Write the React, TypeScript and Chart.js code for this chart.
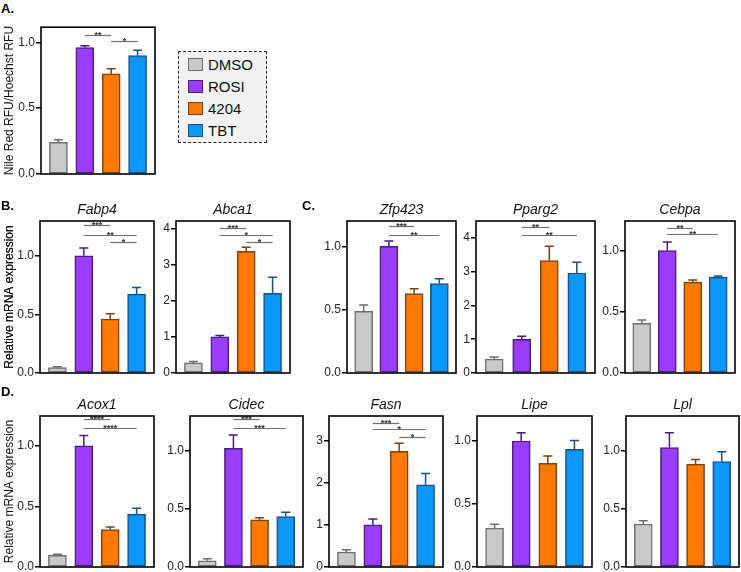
import React, { useEffect, useRef } from 'react';
import { Chart, registerables } from 'chart.js';

Chart.register(...registerables);

const FONT = '"Liberation Sans", Arial, Helvetica, sans-serif';

// ---------- data ----------
const groups = ['DMSO', 'ROSI', '4204', 'TBT'];
const fillColors = ['#c9c9c9', '#9a3dfb', '#ff7800', '#0b97fb'];
const edgeColors = ['#6e6e6e', '#4a1d7a', '#7a4010', '#1b4f80'];

const nileRedMean = [0.24, 0.96, 0.76, 0.90];
const nileRedErr = [0.02, 0.015, 0.04, 0.04];
const nileRedSig: [number, number, number, string][] = [[1, 2, 1.054, '**'], [2, 3, 1.012, '*']];

const fabp4Mean = [0.046, 1.0, 0.46, 0.672];
const fabp4Err = [0.008, 0.066, 0.046, 0.058];
const fabp4Sig: [number, number, number, string][] = [[1, 2, 1.266, '***'], [1, 3, 1.18, '**'], [2, 3, 1.114, '*']];

const abca1Mean = [0.28, 1.0, 3.37, 2.21];
const abca1Err = [0.04, 0.04, 0.11, 0.44];
const abca1Sig: [number, number, number, string][] = [[1, 2, 4.02, '***'], [1, 3, 3.82, '*'], [2, 3, 3.63, '*']];

const zfp423Mean = [0.487, 1.0, 0.627, 0.706];
const zfp423Err = [0.05, 0.042, 0.039, 0.039];
const zfp423Sig: [number, number, number, string][] = [[1, 2, 1.159, '***'], [1, 3, 1.093, '**']];

const pparg2Mean = [0.41, 1.0, 3.33, 2.96];
const pparg2Err = [0.06, 0.09, 0.42, 0.32];
const pparg2Sig: [number, number, number, string][] = [[1, 2, 4.33, '**'], [1, 3, 4.1, '**']];

const cebpaMean = [0.405, 1.0, 0.742, 0.784];
const cebpaErr = [0.028, 0.071, 0.017, 0.008];
const cebpaSig: [number, number, number, string][] = [[1, 2, 1.187, '**'], [1, 3, 1.132, '**']];

const acox1Mean = [0.096, 1.0, 0.308, 0.437];
const acox1Err = [0.01, 0.085, 0.022, 0.049];
const acox1Sig: [number, number, number, string][] = [[1, 2, 1.22, '****'], [1, 3, 1.146, '****']];

const cidecMean = [0.054, 1.02, 0.406, 0.434];
const cidecErr = [0.016, 0.114, 0.017, 0.036];
const cidecSig: [number, number, number, string][] = [[1, 2, 1.27, '***'], [1, 3, 1.198, '***']];

const fasnMean = [0.356, 1.005, 2.75, 1.955];
const fasnErr = [0.054, 0.135, 0.195, 0.265];
const fasnSig: [number, number, number, string][] = [[1, 2, 3.43, '***'], [1, 3, 3.28, '*'], [2, 3, 3.09, '*']];

const lipeMean = [0.309, 1.0, 0.823, 0.934];
const lipeErr = [0.031, 0.066, 0.058, 0.069];

const lplMean = [0.369, 1.026, 0.883, 0.906];
const lplErr = [0.028, 0.128, 0.04, 0.085];

const fractionTicks = [0, 0.5, 1.0];
const fourTicks = [0, 1, 2, 3, 4];
const threeTicks = [0, 1, 2, 3];

const mrnaLabel = 'Relative mRNA expression';
const nileLabel = 'Nile Red RFU/Hoechst RFU';

type Panel = {
  title: string;
  yTitle: string;
  mean: number[];
  err: number[];
  sig: [number, number, number, string][];
  ticks: number[];
  dec: number;
  ymax: number;
  frame: [number, number, number, number]; // left, right, top, bottom (page px)
};

const panels: Panel[] = [
  { title: '', yTitle: nileLabel, mean: nileRedMean, err: nileRedErr, sig: nileRedSig, ticks: fractionTicks, dec: 1, ymax: 1.115, frame: [41, 155, 23, 174] },
  { title: 'Fabp4', yTitle: mrnaLabel, mean: fabp4Mean, err: fabp4Err, sig: fabp4Sig, ticks: fractionTicks, dec: 1, ymax: 1.296, frame: [40, 154, 221, 373] },
  { title: 'Abca1', yTitle: '', mean: abca1Mean, err: abca1Err, sig: abca1Sig, ticks: fourTicks, dec: 0, ymax: 4.21, frame: [176, 290, 221, 373] },
  { title: 'Zfp423', yTitle: mrnaLabel, mean: zfp423Mean, err: zfp423Err, sig: zfp423Sig, ticks: fractionTicks, dec: 1, ymax: 1.2, frame: [347, 456, 221, 373] },
  { title: 'Pparg2', yTitle: '', mean: pparg2Mean, err: pparg2Err, sig: pparg2Sig, ticks: fourTicks, dec: 0, ymax: 4.5, frame: [476, 595, 221, 373] },
  { title: 'Cebpa', yTitle: '', mean: cebpaMean, err: cebpaErr, sig: cebpaSig, ticks: fractionTicks, dec: 1, ymax: 1.242, frame: [625, 735, 221, 373] },
  { title: 'Acox1', yTitle: mrnaLabel, mean: acox1Mean, err: acox1Err, sig: acox1Sig, ticks: fractionTicks, dec: 1, ymax: 1.247, frame: [40, 154, 416, 567] },
  { title: 'Cidec', yTitle: '', mean: cidecMean, err: cidecErr, sig: cidecSig, ticks: fractionTicks, dec: 1, ymax: 1.297, frame: [190, 303, 416, 567] },
  { title: 'Fasn', yTitle: '', mean: fasnMean, err: fasnErr, sig: fasnSig, ticks: threeTicks, dec: 0, ymax: 3.59, frame: [329, 443, 416, 567] },
  { title: 'Lipe', yTitle: '', mean: lipeMean, err: lipeErr, sig: [], ticks: fractionTicks, dec: 1, ymax: 1.198, frame: [477, 592, 416, 567] },
  { title: 'Lpl', yTitle: '', mean: lplMean, err: lplErr, sig: [], ticks: fractionTicks, dec: 1, ymax: 1.297, frame: [626, 739, 416, 567] },
];

const panelLetters: [string, number, number][] = [
  ['A.', 1, 2],
  ['B.', 1, 199],
  ['C.', 302, 199],
  ['D.', 1, 385],
];

// ---------- layout constants ----------
const PAD_TOP = 4;
const PAD_BOTTOM = 10;
const PAD_RIGHT = 4;
const TITLE_H = 20; // 14px * 1.25 + 2.5
const X_MIN = -0.66;
const X_MAX = 3.66;

function BarPanel({ p }: { p: Panel }) {
  const ref = useRef<HTMLCanvasElement | null>(null);
  const [l, r, t, b] = p.frame;
  const canvasLeft = p.yTitle ? 1 : l - 30;
  const yw = l - canvasLeft;
  const canvasTop = t - PAD_TOP - (p.title ? TITLE_H : 0);
  const width = r - canvasLeft + PAD_RIGHT;
  const height = b - canvasTop + PAD_BOTTOM;

  useEffect(() => {
    if (!ref.current) return;
    const overlay = {
      id: 'overlay',
      afterDatasetsDraw(chart: any) {
        const { ctx } = chart;
        const ys = chart.scales.y;
        const meta = chart.getDatasetMeta(0);
        ctx.save();
        // error bars
        meta.data.forEach((el: any, i: number) => {
          const top = ys.getPixelForValue(p.mean[i] + p.err[i]);
          ctx.strokeStyle = edgeColors[i];
          ctx.lineWidth = 1.5;
          ctx.beginPath();
          ctx.moveTo(el.x, el.y);
          ctx.lineTo(el.x, top);
          ctx.moveTo(el.x - 4.5, top);
          ctx.lineTo(el.x + 4.5, top);
          ctx.stroke();
        });
        // significance brackets
        p.sig.forEach(([a, c, v, label]) => {
          const x1 = meta.data[a].x;
          const x2 = meta.data[c].x;
          const y = Math.round(ys.getPixelForValue(v)) + 0.5;
          ctx.strokeStyle = '#707070';
          ctx.lineWidth = 1.2;
          ctx.beginPath();
          ctx.moveTo(x1, y);
          ctx.lineTo(x2, y);
          ctx.stroke();
          ctx.fillStyle = '#333';
          ctx.font = `bold 9px ${FONT}`;
          ctx.textAlign = 'center';
          ctx.textBaseline = 'alphabetic';
          ctx.fillText(label, (x1 + x2) / 2, y + 2.5);
        });
        ctx.restore();
      },
      afterDraw(chart: any) {
        const { ctx, chartArea } = chart;
        ctx.save();
        ctx.strokeStyle = '#000';
        ctx.lineWidth = 1.6;
        ctx.strokeRect(chartArea.left, chartArea.top, chartArea.right - chartArea.left, chartArea.bottom - chartArea.top);
        ctx.restore();
      },
    };

    const chart = new Chart(ref.current, {
      type: 'bar',
      data: {
        datasets: [
          {
            label: p.title || 'Nile Red',
            data: p.mean.map((v, i) => ({ x: i, y: v })),
            backgroundColor: fillColors,
            borderColor: edgeColors,
            borderWidth: 1.5,
            borderSkipped: false,
            barThickness: 18,
          },
        ],
      },
      options: {
        animation: false,
        responsive: false,
        devicePixelRatio: 1,
        layout: { padding: { top: PAD_TOP, bottom: PAD_BOTTOM, right: PAD_RIGHT, left: 0 } },
        plugins: {
          legend: { display: false },
          tooltip: { enabled: false },
          title: {
            display: !!p.title,
            text: p.title,
            fullSize: false,
            color: '#111',
            font: { family: FONT, size: 14, style: 'italic', weight: 'normal', lineHeight: 1.25 },
            padding: { top: 0, bottom: 2.5 },
          },
        },
        scales: {
          x: {
            type: 'linear',
            min: X_MIN,
            max: X_MAX,
            display: false,
            offset: false,
          },
          y: {
            type: 'linear',
            min: 0,
            max: p.ymax,
            afterBuildTicks: (scale: any) => {
              scale.ticks = p.ticks.map((v) => ({ value: v }));
            },
            afterFit: (scale: any) => {
              scale.width = yw;
            },
            ticks: {
              padding: 1,
              color: '#222',
              font: { family: FONT, size: 12 },
              callback: (v: any) => Number(v).toFixed(p.dec),
            },
            grid: {
              display: true,
              drawOnChartArea: false,
              drawTicks: true,
              tickLength: 5,
              color: '#000',
              lineWidth: 1.5,
            },
            border: { display: false },
            title: {
              display: !!p.yTitle,
              text: p.yTitle,
              color: '#111',
              font: { family: FONT, size: 12 },
              padding: { top: 1, bottom: 0 },
            },
          },
        },
      },
      plugins: [overlay],
    } as any);
    return () => chart.destroy();
  }, []);

  return (
    <canvas
      ref={ref}
      width={width}
      height={height}
      style={{ position: 'absolute', left: canvasLeft, top: canvasTop, width, height }}
    />
  );
}

function Legend() {
  return (
    <div
      style={{
        position: 'absolute',
        left: 178,
        top: 51,
        width: 89,
        height: 92,
        boxSizing: 'border-box',
        border: '1.5px dashed #222',
        background: '#f2f2f2',
      }}
    >
      {groups.map((g, i) => (
        <div
          key={g}
          style={{
            position: 'absolute',
            left: 9,
            top: 4 + 22 * i,
            height: 17,
            display: 'flex',
            alignItems: 'center',
          }}
        >
          <div
            style={{
              width: 15,
              height: 13,
              boxSizing: 'border-box',
              background: fillColors[i],
              border: `1.5px solid ${edgeColors[i]}`,
              marginRight: 5,
            }}
          />
          <span style={{ fontFamily: FONT, fontSize: 15, color: '#111', lineHeight: '17px' }}>{g}</span>
        </div>
      ))}
    </div>
  );
}

export default function App() {
  return (
    <div
      style={{
        position: 'fixed',
        left: 0,
        top: 0,
        width: 741,
        height: 572,
        background: '#fff',
        overflow: 'hidden',
      }}
    >
      {panels.map((p, i) => (
        <BarPanel key={i} p={p} />
      ))}
      <Legend />
      {panelLetters.map(([txt, x, y]) => (
        <div
          key={txt}
          style={{
            position: 'absolute',
            left: x,
            top: y,
            fontFamily: FONT,
            fontWeight: 'bold',
            fontSize: 13,
            lineHeight: '13px',
            color: '#000',
          }}
        >
          {txt}
        </div>
      ))}
    </div>
  );
}
